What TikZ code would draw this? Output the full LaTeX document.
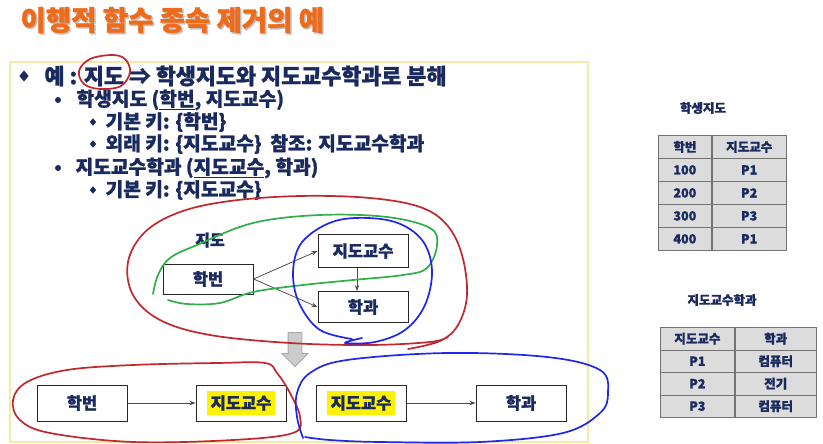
\documentclass[tikz,border=0pt]{standalone}
\usepackage{fontspec}
\setmainfont{Noto Sans CJK KR}[BoldFeatures={FakeBold=1.2}]
\usetikzlibrary{arrows.meta,positioning,shapes.geometric,shapes.arrows}
\definecolor{ink}{HTML}{1B2A5E}
\definecolor{ttlorange}{HTML}{EE6B1C}
\definecolor{framey}{HTML}{F3E9A8}
\definecolor{redpen}{HTML}{C1272D}
\definecolor{greenpen}{HTML}{2FAE4A}
\definecolor{bluepen}{HTML}{1F28E6}
\definecolor{hlyellow}{HTML}{FFF200}
\definecolor{cellgray}{HTML}{DCDCDC}
\newcommand{\hilite}[1]{{\setlength{\fboxsep}{4pt}\colorbox{hlyellow}{#1}}}

\begin{document}
\begin{tikzpicture}[x=1pt,y=-1pt,
  box/.style={draw=black!85, line width=1pt, fill=white, minimum width=90pt, inner sep=2pt, font=\fontsize{16.5}{19}\selectfont\bfseries, text=ink},
  arr/.style={-{Stealth[length=6pt,width=4.5pt]}, draw=black!70, line width=0.8pt},
  pen/.style={line width=1.7pt, line cap=round, line join=round},
  big/.style={anchor=west, font=\fontsize{21.8}{25}\selectfont\bfseries, text=ink},
  txt/.style={anchor=west, font=\fontsize{19.2}{22}\selectfont\bfseries, text=ink},
  bul/.style={circle, fill=ink, inner sep=0pt, minimum size=6pt},
  dia/.style={diamond, fill=ink, inner sep=0pt, minimum width=6.5pt, minimum height=7.5pt},
  cell/.style={draw=black!55, line width=0.8pt, fill=cellgray, inner sep=0pt, anchor=north west, font=\fontsize{12.5}{14}\selectfont\bfseries, text=ink},
  lbl/.style={font=\fontsize{12.5}{14}\selectfont\bfseries, text=ink}]
\useasboundingbox (0,0) rectangle (823,444);

% title
\node[anchor=west, font=\fontsize{27.5}{31}\selectfont\bfseries, text=black!25] (ttl-sh) at (18.5,21.5) {이행적 함수 종속 제거의 예};
\node[anchor=west, font=\fontsize{27.5}{31}\selectfont\bfseries, text=ttlorange] (ttl) at (17,20) {이행적 함수 종속 제거의 예};

% frame
\draw[framey, line width=1.5pt] (10,62) rectangle (588,442);

% bullet list
\node[dia, minimum width=9.5pt, minimum height=11pt] (b1) at (24,76) {};
\node[big] (l1) at (41,76) {예 : 지도 ⇒ 학생지도와 지도교수학과로 분해};
\node[bul] (b2) at (58,100) {};
\node[txt] (l2) at (73,100) {학생지도 (\underline{학번}, 지도교수)};
\node[dia] (b3) at (93,122) {};
\node[txt] (l3) at (102,122) {기본 키: \{학번\}};
\node[dia] (b4) at (93,144) {};
\node[txt] (l4) at (102,144) {외래 키: \{지도교수\}\ \ 참조: 지도교수학과};
\node[bul] (b5) at (58,168) {};
\node[txt] (l5) at (72,168) {지도교수학과 (\underline{지도교수}, 학과)};
\node[dia] (b6) at (93,190) {};
\node[txt] (l6) at (102,190) {기본 키: \{지도교수\}};

% dependency diagram
\node[font=\fontsize{16}{18}\selectfont\bfseries, text=ink] (jd) at (210,240) {지도};
\node[box, minimum height=30pt] (hb) at (208,279) {학번};
\node[box, minimum height=33pt] (jg) at (363,251) {지도교수};
\node[box, minimum height=31pt, below=23pt of jg] (hk) {학과};
\draw[arr] (hb.east) -- (jg.west);
\draw[arr] (hb.east) -- (hk.west);
\draw[arr] ([xshift=-6pt]jg.south) -- ([xshift=-6pt]hk.north);

\node[single arrow, rotate=-90, draw=black!35, fill=black!20, line width=0.8pt, inner sep=6.5pt, single arrow head extend=6pt, minimum height=34pt] (down) at (295,346) {};

% decomposed
\node[box, minimum height=36pt] (hb2) at (82,403) {학번};
\node[box, minimum height=36pt, right=68pt of hb2] (jg2) {\hilite{지도교수}};
\node[box, minimum height=36pt, right=29pt of jg2] (jg3) {\hilite{지도교수}};
\node[box, minimum height=36pt, right=69pt of jg3] (hk2) {학과};
\draw[arr] (hb2) -- (jg2);
\draw[arr] (jg3) -- (hk2);

% pen marks
\draw[pen, redpen] plot[smooth cycle, tension=0.6] coordinates {(112,55) (90,59) (79,71) (84,84) (100,89) (121,86) (130,72) (125,59)};
\draw[pen, redpen] plot[smooth, tension=0.6] coordinates {(408,349) (440,341) (458,325) (467,295) (462,255) (447,225) (420,207) (370,198) (300,196) (230,201) (180,212) (145,232) (128,262) (133,295) (160,320) (210,335) (290,343) (370,345) (430,342) (448,337)};
\draw[pen, greenpen] plot[smooth, tension=0.6] coordinates {(153,294) (158,275) (170,258) (197,245) (253,223) (320,215) (387,217) (430,228) (437,245) (427,268) (403,275) (353,280) (303,285) (253,292) (220,303) (187,304) (168,300)};
\draw[pen, bluepen] plot[smooth, tension=0.6] coordinates {(352,339) (320,330) (300,305) (293,275) (300,245) (325,225) (355,218) (395,222) (422,240) (432,270) (425,305) (405,330) (375,342) (345,343) (362,338)};
\draw[pen, redpen] plot[smooth cycle, tension=0.6] coordinates {(265,363) (217,363) (133,365) (67,370) (27,382) (13,400) (20,420) (50,433) (133,442) (233,440) (293,433) (300,417) (290,393) (277,373)};
\draw[pen, bluepen] plot[smooth, tension=0.6] coordinates {(303,438) (297,417) (297,393) (310,373) (347,360) (447,353) (547,357) (600,370) (608,393) (600,413) (563,433) (480,442) (380,442) (330,440) (305,437)};

% table: 학생지도
\node[lbl] (t1) at (703,108) {학생지도};
\foreach \a/\b [count=\i] in {학번/지도교수,100/P1,200/P2,300/P3,400/P1}{
  \node[cell, minimum width=53pt, minimum height=23pt] (sj-\i-1) at (658,{135+23*(\i-1)}) {\a};
  \node[cell, minimum width=74pt, minimum height=23pt, right=0pt of sj-\i-1] (sj-\i-2) {\b};
}

% table: 지도교수학과
\node[lbl] (t2) at (722,300) {지도교수학과};
\foreach \a/\b [count=\i] in {지도교수/학과,P1/컴퓨터,P2/전기,P3/컴퓨터}{
  \node[cell, minimum width=74pt, minimum height=22.5pt] (jh-\i-1) at (660,{327+22.5*(\i-1)}) {\a};
  \node[cell, minimum width=81pt, minimum height=22.5pt, right=0pt of jh-\i-1] (jh-\i-2) {\b};
}
\end{tikzpicture}
\end{document}
